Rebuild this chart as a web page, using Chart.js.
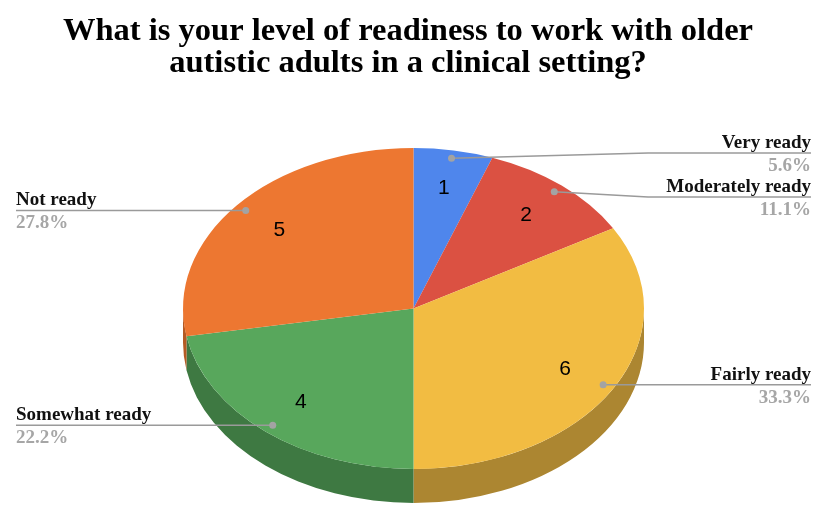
<!DOCTYPE html>
<html>
<head>
<meta charset="utf-8">
<script src="https://cdn.jsdelivr.net/npm/chart.js@4/dist/chart.umd.min.js"></script>
<style>
  html, body { margin: 0; padding: 0; background: #fff; }
  #wrap { width: 816px; height: 505px; }
</style>
</head>
<body>
<div id="wrap"><canvas id="readinessChart" width="816" height="505"></canvas></div>
<script>
const categories = ["Very ready", "Moderately ready", "Fairly ready", "Somewhat ready", "Not ready"];
const responses = [1, 2, 6, 4, 5];

const sliceColors = ["#4f86ec", "#db5142", "#f2bc42", "#58a75c", "#ed7731"];
const sideColors = ["#37609f", "#9a3a2f", "#ac8631", "#3e7942", "#b45a24"];

// ellipse the pie is projected onto, and the thickness of the rim
const CX = 413.5, CY = 308.5, RX = 230.5, RY = 160.5, DEPTH = 34;
const LABEL_GAP = 44;

const pie3d = {
    id: 'pie3d',
    beforeDatasetsDraw(chart) {
        const ctx = chart.ctx;
        const arcs = chart.getDatasetMeta(0).data;

        // front rim, only the lower half of the ellipse is visible
        arcs.forEach((arc, i) => {
            const s = Math.max(arc.startAngle, 0);
            const e = Math.min(arc.endAngle, Math.PI);
            if (e <= s) return;
            ctx.beginPath();
            ctx.ellipse(CX, CY, RX, RY, 0, s, e);
            ctx.ellipse(CX, CY + DEPTH, RX, RY, 0, e, s, true);
            ctx.closePath();
            ctx.fillStyle = sideColors[i];
            ctx.fill();
        });

        // squash the flat pie into the top face
        const a = arcs[0];
        ctx.save();
        ctx.translate(CX, CY);
        ctx.scale(RX / a.outerRadius, RY / a.outerRadius);
        ctx.translate(-a.x, -a.y);
    },
    afterDatasetsDraw(chart) {
        const ctx = chart.ctx;
        ctx.restore();

        const arcs = chart.getDatasetMeta(0).data;
        const total = responses.reduce((s, v) => s + v, 0);

        const items = arcs.map((arc, i) => {
            const mid = (arc.startAngle + arc.endAngle) / 2;
            const c = Math.cos(mid), s = Math.sin(mid);
            return {
                i: i,
                c: c,
                s: s,
                dotX: CX + RX * 0.95 * c,
                dotY: CY + RY * 0.95 * s,
                lineY: CY + RY * 0.95 * s
            };
        });

        // values inside the slices
        ctx.fillStyle = '#000';
        ctx.font = '21px "Liberation Sans", Arial, sans-serif';
        ctx.textAlign = 'center';
        ctx.textBaseline = 'middle';
        items.forEach(it => {
            ctx.fillText(String(responses[it.i]), CX + RX * 0.76 * it.c, CY + RY * 0.76 * it.s);
        });

        // keep labels on each side from overlapping
        [items.filter(it => it.c > 0), items.filter(it => it.c <= 0)].forEach(side => {
            side.sort((p, q) => p.lineY - q.lineY);
            for (let j = 1; j < side.length; j++) {
                const gap = side[j].lineY - side[j - 1].lineY;
                if (gap < LABEL_GAP) {
                    const shift = (LABEL_GAP - gap) / 2;
                    side[j - 1].lineY -= shift;
                    side[j].lineY += shift;
                }
            }
        });

        items.forEach(it => {
            const right = it.c > 0;
            const endX = right ? 811 : 16;
            const elbowX = right ? Math.max(it.dotX, CX + RX + 4) : Math.min(it.dotX, CX - RX - 4);

            ctx.strokeStyle = '#9a9a9a';
            ctx.lineWidth = 1.5;
            ctx.beginPath();
            ctx.moveTo(it.dotX, it.dotY);
            ctx.lineTo(elbowX, it.lineY);
            ctx.lineTo(endX, it.lineY);
            ctx.stroke();

            ctx.fillStyle = '#a3a3a3';
            ctx.beginPath();
            ctx.arc(it.dotX, it.dotY, 3.5, 0, Math.PI * 2);
            ctx.fill();

            ctx.textAlign = right ? 'right' : 'left';
            ctx.textBaseline = 'alphabetic';
            ctx.font = 'bold 19px "Liberation Serif", "Times New Roman", serif';
            ctx.fillStyle = '#111';
            ctx.fillText(categories[it.i], endX, it.lineY - 5);
            ctx.fillStyle = '#a6a6a6';
            ctx.fillText((responses[it.i] / total * 100).toFixed(1) + '%', endX, it.lineY + 18);
        });
    }
};

new Chart(document.getElementById('readinessChart'), {
    type: 'pie',
    data: {
        labels: categories,
        datasets: [{
            data: responses,
            backgroundColor: sliceColors,
            borderWidth: 0,
            clip: false
        }]
    },
    options: {
        responsive: false,
        animation: false,
        events: [],
        layout: { padding: { bottom: 20 } },
        plugins: {
            legend: { display: false },
            tooltip: { enabled: false },
            title: {
                display: true,
                text: ["What is your level of readiness to work with older", "autistic adults in a clinical setting?"],
                color: '#000',
                font: { family: '"Liberation Serif", "Times New Roman", serif', size: 32.5, weight: 'bold', lineHeight: 0.97 },
                padding: { top: 16, bottom: 10 }
            }
        }
    },
    plugins: [pie3d]
});
</script>
</body>
</html>
